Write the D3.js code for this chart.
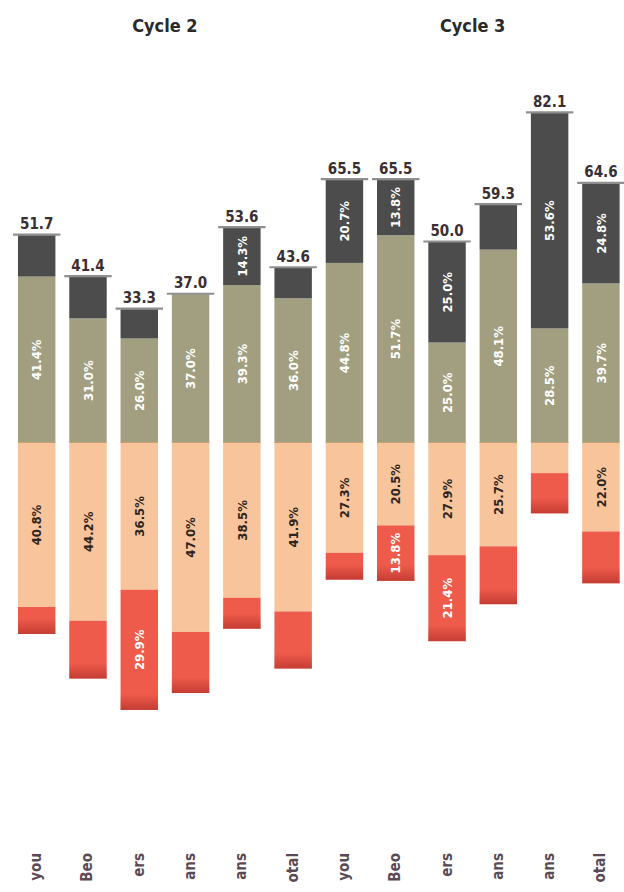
<!DOCTYPE html>
<html>
<head>
<meta charset="utf-8">
<script src="https://cdn.jsdelivr.net/npm/d3@7"></script>
<style>
  html, body { margin: 0; padding: 0; background: #ffffff; }
  svg { display: block; }
</style>
</head>
<body>
<svg id="chart" width="624" height="892"></svg>
<script>
// ---- data ----
const cycles = ["Cycle 2", "Cycle 3"];
const categories = ["you", "Beo", "ers", "ans", "ans", "otal", "you", "Beo", "ers", "ans", "ans", "otal"];
const cycleOfBar = [0, 0, 0, 0, 0, 0, 1, 1, 1, 1, 1, 1];
const totals = [51.7, 41.4, 33.3, 37.0, 53.6, 43.6, 65.5, 65.5, 50.0, 59.3, 82.1, 64.6];
const darkValues = [10.3, 10.4, 7.3, 0.0, 14.3, 7.6, 20.7, 13.8, 25.0, 11.2, 53.6, 24.8];
const khakiValues = [41.4, 31.0, 26.0, 37.0, 39.3, 36.0, 44.8, 51.7, 25.0, 48.1, 28.5, 39.7];
const orangeValues = [40.8, 44.2, 36.5, 47.0, 38.5, 41.9, 27.3, 20.5, 27.9, 25.7, 7.5, 22.0];
const redValues = [6.7, 14.4, 29.9, 15.2, 7.7, 14.2, 6.7, 13.8, 21.4, 14.4, 10.0, 12.9];
const darkLabels = ["", "", "", "", "14.3%", "", "20.7%", "13.8%", "25.0%", "", "53.6%", "24.8%"];
const khakiLabels = ["41.4%", "31.0%", "26.0%", "37.0%", "39.3%", "36.0%", "44.8%", "51.7%", "25.0%", "48.1%", "28.5%", "39.7%"];
const orangeLabels = ["40.8%", "44.2%", "36.5%", "47.0%", "38.5%", "41.9%", "27.3%", "20.5%", "27.9%", "25.7%", "", "22.0%"];
const redLabels = ["", "", "29.9%", "", "", "", "", "13.8%", "21.4%", "", "", ""];

// ---- colours ----
const colDark = "#4b4c4b";
const colKhaki = "#a29f81";
const colOrange = "#f8c49b";
const colRed = "#ef5b4b";

const svg = d3.select("#chart");
const idx = d3.range(categories.length);

const x = d3.scaleBand().domain(idx).range([11.3, 626.3]).paddingInner(0.27).paddingOuter(0.13);
const y = d3.scaleLinear().domain([-100, 100]).range([845, 41]);
const bw = x.bandwidth();

const FONT = "'DejaVu Sans Condensed', 'DejaVu Sans', sans-serif";

// gradient for red bottom band
const defs = svg.append("defs");
const grad = defs.append("linearGradient").attr("id", "redShade").attr("x1", 0).attr("x2", 0).attr("y1", 0).attr("y2", 1);
grad.append("stop").attr("offset", 0).attr("stop-color", "#9a1f1c").attr("stop-opacity", 0);
grad.append("stop").attr("offset", 1).attr("stop-color", "#9a1f1c").attr("stop-opacity", 0.5);

// build segments
const segs = [];
idx.forEach(i => {
  const k = khakiValues[i], d = darkValues[i], o = orangeValues[i], r = redValues[i];
  segs.push({i, y0: 0, y1: k, fill: colKhaki, label: khakiLabels[i], tc: "#ffffff"});
  if (d > 0) segs.push({i, y0: k, y1: k + d, fill: colDark, label: darkLabels[i], tc: "#ffffff"});
  segs.push({i, y0: -o, y1: 0, fill: colOrange, label: orangeLabels[i], tc: "#2e2420"});
  segs.push({i, y0: -o - r, y1: -o, fill: colRed, label: redLabels[i], tc: "#ffffff"});
});

const g = svg.append("g");

g.selectAll("rect.seg").data(segs).join("rect")
  .attr("class", "seg")
  .attr("x", s => x(s.i))
  .attr("width", bw)
  .attr("y", s => y(s.y1))
  .attr("height", s => y(s.y0) - y(s.y1))
  .attr("fill", s => s.fill);

// darker shading at the bottom of each red segment
g.selectAll("rect.shade").data(idx).join("rect")
  .attr("class", "shade")
  .attr("x", i => x(i))
  .attr("width", bw)
  .attr("y", i => y(-orangeValues[i] - redValues[i]) - Math.min(16, (y(-orangeValues[i] - redValues[i]) - y(-orangeValues[i])) * 0.6))
  .attr("height", i => Math.min(16, (y(-orangeValues[i] - redValues[i]) - y(-orangeValues[i])) * 0.6))
  .attr("fill", "url(#redShade)");

// thin edge at zero line
g.selectAll("line.zero").data(idx).join("line")
  .attr("x1", i => x(i)).attr("x2", i => x(i) + bw)
  .attr("y1", y(0) - 0.5).attr("y2", y(0) - 0.5)
  .attr("stroke", "#c9a070").attr("stroke-width", 1.2);

// caps
g.selectAll("line.cap").data(idx).join("line")
  .attr("x1", i => x(i) - 5).attr("x2", i => x(i) + bw + 5)
  .attr("y1", i => y(totals[i]) - 0.5).attr("y2", i => y(totals[i]) - 0.5)
  .attr("stroke", "#8f8f8f").attr("stroke-width", 2.2);

// segment labels
g.selectAll("text.seglab").data(segs.filter(s => s.label)).join("text")
  .attr("class", "seglab")
  .attr("transform", s => `translate(${x(s.i) + bw / 2},${(y(s.y0) + y(s.y1)) / 2}) rotate(-90)`)
  .attr("text-anchor", "middle")
  .attr("dy", "0.36em")
  .attr("font-family", FONT)
  .attr("font-stretch", "condensed")
  .attr("font-weight", "bold")
  .attr("font-size", 13)
  .attr("fill", s => s.tc)
  .text(s => s.label);

// totals
g.selectAll("text.total").data(idx).join("text")
  .attr("class", "total")
  .attr("x", i => x(i) + bw / 2)
  .attr("y", i => y(totals[i]) - 6)
  .attr("text-anchor", "middle")
  .attr("font-family", FONT)
  .attr("font-stretch", "condensed")
  .attr("font-weight", "bold")
  .attr("font-size", 15)
  .attr("fill", "#3a2f33")
  .text(i => totals[i].toFixed(1));

// cycle headings
cycles.forEach((c, ci) => {
  const members = idx.filter(i => cycleOfBar[i] === ci);
  const cx = (x(members[0]) + x(members[members.length - 1]) + bw) / 2;
  svg.append("text")
    .attr("x", cx).attr("y", 32)
    .attr("text-anchor", "middle")
    .attr("font-family", FONT)
    .attr("font-stretch", "condensed")
    .attr("font-weight", "bold")
    .attr("font-size", 18)
    .attr("fill", "#2a2a2a")
    .text(c);
});

// category labels (rotated)
svg.selectAll("text.cat").data(idx).join("text")
  .attr("class", "cat")
  .attr("transform", i => `translate(${x(i) + bw / 2},853) rotate(-90)`)
  .attr("text-anchor", "end")
  .attr("dy", "0.3em")
  .attr("font-family", FONT)
  .attr("font-weight", "bold")
  .attr("font-size", 15)
  .attr("fill", "#5a4a55")
  .text(i => categories[i]);
</script>
</body>
</html>
